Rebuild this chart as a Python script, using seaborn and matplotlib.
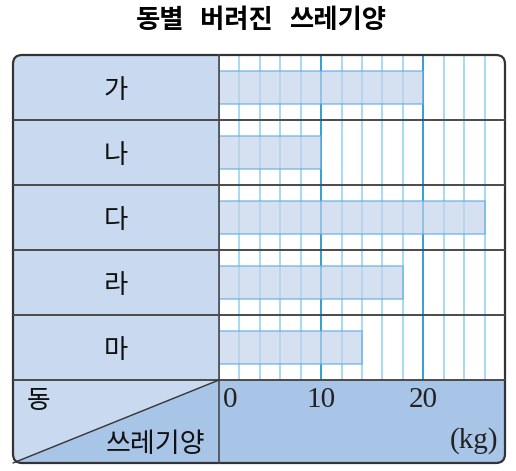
import matplotlib
matplotlib.use("Agg")
import matplotlib.pyplot as plt
from matplotlib.patches import FancyBboxPatch, Rectangle, Polygon
from matplotlib.transforms import ScaledTranslation
import seaborn as sns
import pandas as pd

sns.set_theme(style="white")
plt.rcParams['font.family'] = ['Noto Sans CJK KR', 'DejaVu Sans']

# ---- data ----
title = "동별 버려진 쓰레기양"
dongs = ["가", "나", "다", "라", "마"]
amounts = [20, 10, 26, 18, 14]
row_header = "동"
col_header = "쓰레기양"
unit = "(kg)"
major_ticks = [0, 10, 20]
x_max = 28

df = pd.DataFrame({"동": dongs, "쓰레기양": amounts})

W, H = 516, 471
fig = plt.figure(figsize=(W / 100, H / 100), dpi=100)

# layout in pixels
L, R, T, B = 13, 505, 55, 463
XSPLIT, YSPLIT = 219, 380
light = "#c9daf0"
dark = "#a8c4e7"
line_c = "#4a4a4a"
serif = ["Liberation Serif", "DejaVu Serif"]

# background axes (fills)
ax_bg = fig.add_axes([0, 0, 1, 1], zorder=0)
ax_bg.set_xlim(0, W)
ax_bg.set_ylim(H, 0)
ax_bg.axis("off")
clip = FancyBboxPatch((L, T), R - L, B - T, boxstyle="round,pad=0,rounding_size=9",
                      facecolor="none", edgecolor="none", transform=ax_bg.transData)
ax_bg.add_patch(clip)
fills = [
    Rectangle((L, T), XSPLIT - L, YSPLIT - T, facecolor=light, edgecolor="none"),
    Polygon([(L, YSPLIT), (XSPLIT, YSPLIT), (L, B)], closed=True, facecolor=light, edgecolor="none"),
    Polygon([(XSPLIT, YSPLIT), (XSPLIT, B), (L, B)], closed=True, facecolor=dark, edgecolor="none"),
    Rectangle((XSPLIT, YSPLIT), R - XSPLIT, B - YSPLIT, facecolor=dark, edgecolor="none"),
]
for p in fills:
    ax_bg.add_patch(p)
    p.set_clip_path(clip)

# bar axes
ax = fig.add_axes([XSPLIT / W, (H - YSPLIT) / H, (R - XSPLIT) / W, (YSPLIT - T) / H], zorder=1)
ax.set_facecolor("white")
sns.barplot(data=df, x="쓰레기양", y="동", orient="h", width=0.52,
            color="#bcd2ef", edgecolor="#62aae3", linewidth=1.2, alpha=0.68,
            ax=ax, zorder=1)
ax.set_xlim(0, x_max)
ax.set_ylim(len(dongs) - 0.5, -0.5)
ax.set_xticks(major_ticks)
ax.set_xticks(range(2, x_max, 2), minor=True)
ax.grid(which="minor", axis="x", color="#9ed8f4", linewidth=1.3, zorder=0)
ax.grid(which="major", axis="x", color="#2196d3", linewidth=1.3, zorder=0)
ax.grid(False, axis="y")
ax.set_axisbelow(True)
for s in ax.spines.values():
    s.set_visible(False)
ax.set_xlabel("")
ax.set_ylabel("")
ax.tick_params(axis="both", which="both", length=0)
ax.tick_params(axis="x", pad=5)
ax.tick_params(axis="y", pad=(XSPLIT - (L + XSPLIT) / 2) * 0.72)
xlabs = ax.get_xticklabels()
for lab in xlabs:
    lab.set_family(serif)
    lab.set_fontsize(21)
    lab.set_color("#222222")
    lab.set_verticalalignment("top")
# the "0" label sits just right of the left border
xlabs[0].set_horizontalalignment("left")
xlabs[0].set_transform(xlabs[0].get_transform() + ScaledTranslation(4 / 100, 0, fig.dpi_scale_trans))
for lab in ax.get_yticklabels():
    lab.set_fontsize(19)
    lab.set_horizontalalignment("center")
    lab.set_color("#111111")

# foreground axes (lines, border, texts)
ax_fg = fig.add_axes([0, 0, 1, 1], zorder=2)
ax_fg.set_xlim(0, W)
ax_fg.set_ylim(H, 0)
ax_fg.axis("off")
ax_fg.patch.set_alpha(0)
row_h = (YSPLIT - T) / len(dongs)
for i in range(1, len(dongs) + 1):
    y = T + i * row_h
    ax_fg.plot([L, R], [y, y], color=line_c, lw=1.4, solid_capstyle="butt")
ax_fg.plot([XSPLIT, XSPLIT], [T, B], color=line_c, lw=1.2)
ax_fg.plot([XSPLIT, L], [YSPLIT, B], color="#333333", lw=1.0)
border = FancyBboxPatch((L, T), R - L, B - T, boxstyle="round,pad=0,rounding_size=9",
                        facecolor="none", edgecolor="#333333", linewidth=1.6)
ax_fg.add_patch(border)

ax_fg.text(39, 401, row_header, ha="center", va="center", fontsize=18.5, color="#111111")
ax_fg.text(205, 445, col_header, ha="right", va="center", fontsize=19.5, color="#111111")
ax_fg.text(498, 441, unit, ha="right", va="center", fontsize=21, color="#222222", family=serif)

# title: words laid out with wide gaps, centred
words = title.split(" ")
gap = 16
renderer = fig.canvas.get_renderer()
texts, widths = [], []
for w_ in words:
    t = ax_fg.text(0, 20, w_, ha="left", va="center", fontsize=19, fontweight="bold", color="black")
    bb = t.get_window_extent(renderer=renderer)
    texts.append(t)
    widths.append(bb.width)
total = sum(widths) + gap * (len(words) - 1)
x = 261 - total / 2
for t, wd in zip(texts, widths):
    t.set_x(x)
    x += wd + gap

fig.savefig("out.png", dpi=100, facecolor="white")
